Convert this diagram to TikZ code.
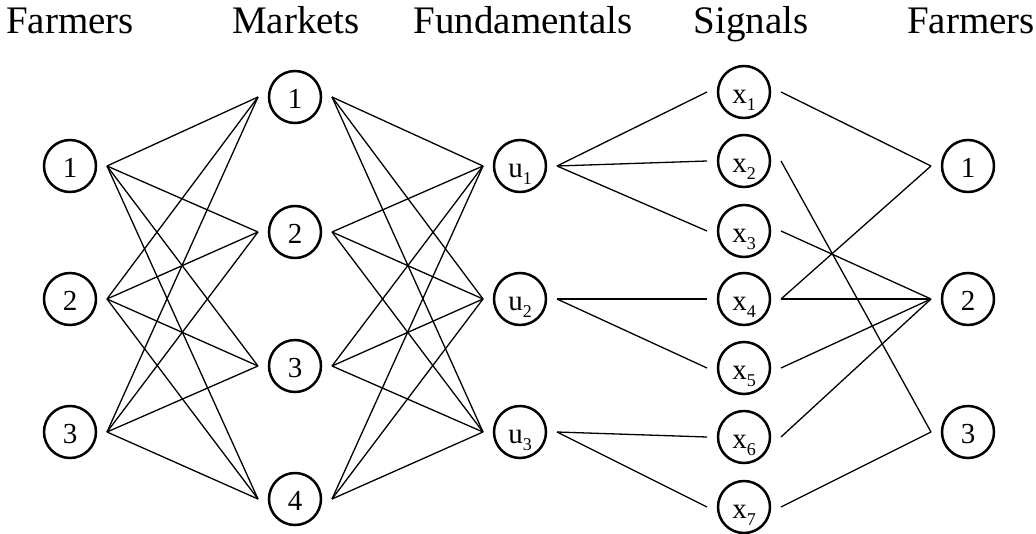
\documentclass[tikz,border=0pt]{standalone}
\usepackage{fontspec}
\setmainfont{Liberation Serif}
\newcommand{\sx}[2]{#1\smash{\raisebox{-7pt}{\fontsize{18}{18}\selectfont #2}}}
\begin{document}
\begin{tikzpicture}[x=1pt,y=-1pt,
  vert/.style={circle,draw,line width=2.5pt,minimum size=52pt,inner sep=0pt,outer sep=11pt,text height=22pt,text depth=0pt,font=\fontsize{29}{29}\selectfont},
  head/.style={anchor=base,font=\fontsize{39}{39}\selectfont},
  edge/.style={line width=1.3pt}]
\useasboundingbox (0,0) rectangle (1036,533);
% headers
\node[head] (h1) at (70,33) {Farmers};
\node[head] (h2) at (296,33) {Markets};
\node[head] (h3) at (523,33) {Fundamentals};
\node[head] (h4) at (751,33) {Signals};
\node[head] (h5) at (971,33) {Farmers};
% left farmers
\node[vert] (F1) at (70,166) {1};
\node[vert] (F2) at (70,299) {2};
\node[vert] (F3) at (70,432) {3};
% markets
\node[vert] (M1) at (295,97) {1};
\node[vert] (M2) at (295,232) {2};
\node[vert] (M3) at (295,366) {3};
\node[vert] (M4) at (295,499) {4};
% fundamentals
\node[vert] (U1) at (520,166) {\sx{u}{1}};
\node[vert] (U2) at (520,299) {\sx{u}{2}};
\node[vert] (U3) at (520,432) {\sx{u}{3}};
% signals
\node[vert] (X1) at (744,92) {\sx{x}{1}};
\node[vert] (X2) at (744,161) {\sx{x}{2}};
\node[vert] (X3) at (744,231) {\sx{x}{3}};
\node[vert] (X4) at (744,299) {\sx{x}{4}};
\node[vert] (X5) at (744,368) {\sx{x}{5}};
\node[vert] (X6) at (744,437) {\sx{x}{6}};
\node[vert] (X7) at (744,507) {\sx{x}{7}};
% right farmers
\node[vert] (R1) at (968,166) {1};
\node[vert] (R2) at (968,299) {2};
\node[vert] (R3) at (968,432) {3};
% farmers - markets
\foreach \f in {F1,F2,F3}
  \foreach \m in {M1,M2,M3,M4}
    \draw[edge] (\f.east) -- (\m.west);
% markets - fundamentals
\foreach \m in {M1,M2,M3,M4}
  \foreach \u in {U1,U2,U3}
    \draw[edge] (\m.east) -- (\u.west);
% fundamentals - signals
\draw[edge] (U1.east) -- (X1.west);
\draw[edge] (U1.east) -- (X2.west);
\draw[edge] (U1.east) -- (X3.west);
\draw[edge] (U2.east) -- (X4.west);
\draw[edge] (U2.east) -- (X5.west);
\draw[edge] (U3.east) -- (X6.west);
\draw[edge] (U3.east) -- (X7.west);
% signals - farmers
\draw[edge] (X1.east) -- (R1.west);
\draw[edge] (X2.east) -- (R3.west);
\draw[edge] (X3.east) -- (R2.west);
\draw[edge] (X4.east) -- (R1.west);
\draw[edge] (X4.east) -- (R2.west);
\draw[edge] (X5.east) -- (R2.west);
\draw[edge] (X6.east) -- (R2.west);
\draw[edge] (X7.east) -- (R3.west);
\end{tikzpicture}
\end{document}
